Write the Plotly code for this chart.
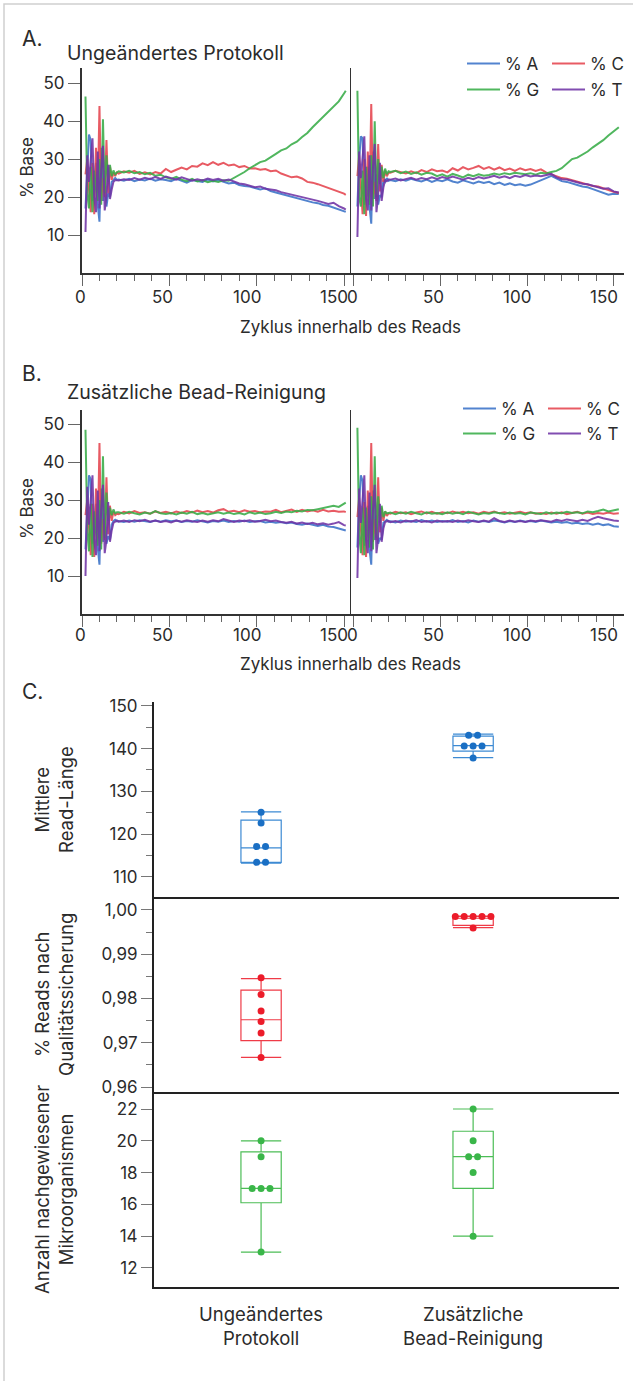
import plotly.graph_objects as go

W, H = 633, 1381
FONT = "Inter"
TXT = "#2b2b2b"

# ---------------- cycle grids ----------------
EARLY = list(range(2, 21))
MID = list(range(21, 151, 3))
X_LEFT = EARLY + MID + [151]
X_RIGHT = EARLY + MID + [153]
X_TICKS = [0, 50, 100, 150]

# ---------------- Panel A, left (Ungeändertes Protokoll, read 1) ----------------
AL_A = [17, 29, 36.5, 35, 19, 24, 29, 18, 13.5, 33, 19, 27, 17.5, 21, 20, 24, 24.5, 25, 24.5,
        24.6, 24.3, 24.8, 24.2, 24.6, 24.4, 24.9, 24.3, 24.7, 24.5, 24.2,
        24.8, 24.4, 23.8, 24.5, 24.2, 24.0, 24.6, 24.1, 24.5, 24.0, 23.6,
        23.8, 23.2, 22.9, 22.8, 22.4, 22.0, 22.3, 21.6, 21.2, 20.8, 20.5,
        20.2, 19.6, 19.4, 18.9, 18.6, 18.4, 17.9, 17.7, 17.2, 16.8, 16.3,
        16.1]
AL_C = [26, 30, 22, 16, 29, 15.5, 33, 21, 44, 19, 25, 20, 35, 21, 28, 24.5, 26.5, 25.5, 26.5,
        26.2, 26.8, 26.4, 26.9, 26.1, 26.5, 26.0, 26.6, 26.2, 27.4, 26.6,
        27.2, 27.8, 27.3, 28.2, 28.0, 28.9, 28.4, 29.2, 28.5, 29.0, 28.3,
        28.6, 27.9, 28.2, 27.5, 27.6, 27.2, 27.4, 26.8, 27.0, 26.2, 25.6,
        25.2, 25.4, 24.9, 24.0, 23.8, 23.4, 22.9, 22.6, 22.0, 21.6, 20.9,
        20.6]
AL_G = [46.5, 21, 17, 28, 16, 27, 22, 19, 30, 18, 40.5, 21, 31, 24, 28.5, 25.5, 27, 26, 26.5,
        26.8, 26.5, 26.9, 26.3, 26.6, 26.0, 26.4, 25.6, 25.9, 25.2, 24.8,
        25.3, 24.6, 24.2, 24.8, 24.1, 24.5, 23.9, 24.3, 24.0, 24.4, 24.3,
        25.0, 25.8, 26.6, 27.6, 28.4, 29.2, 29.6, 30.6, 31.4, 32.3, 32.8,
        33.9, 34.6, 35.8, 36.9, 38.4, 39.8, 41.0, 42.6, 43.8, 45.2, 47.3,
        48.0]
AL_T = [10.8, 31, 24, 30, 35.5, 20, 16, 32, 17, 27, 33.5, 16.5, 20, 28.5, 19.5, 22, 24, 24.5, 24.5,
        24.4, 24.7, 24.5, 25.0, 24.6, 25.1, 24.7, 25.3, 24.8, 25.4, 25.1,
        24.6, 25.2, 24.8, 24.3, 24.7, 24.4, 24.9, 24.5, 24.8, 24.3, 24.6,
        24.0, 23.6, 23.4, 22.9, 22.6, 22.8, 22.2, 22.0, 21.8, 21.3, 21.0,
        20.6, 20.3, 20.0, 19.6, 19.3, 19.0, 18.6, 18.2, 18.5, 17.6, 17.0,
        16.7]

# ---------------- Panel A, right (read 2) ----------------
AR_A = [17.5, 30, 36, 35.5, 18, 25, 28, 17.5, 13, 32, 19.5, 26, 18, 20.5, 20, 24.5, 24, 25, 24.3,
        24.5, 24.2, 24.7, 24.3, 24.8, 24.4, 24.1, 24.6, 24.0, 24.5, 24.2,
        24.7, 24.1, 23.8, 24.4, 24.0, 23.6, 24.1, 23.7, 24.0, 23.4, 23.8,
        23.2, 23.6, 23.1, 23.4, 23.0, 23.3, 23.8, 24.3, 25.0, 25.6, 24.9,
        24.2, 24.0, 23.5, 23.2, 22.8, 22.6, 22.1, 21.6, 21.2, 20.6, 20.9,
        20.8]
AR_C = [25.5, 31, 23, 15.5, 30, 15, 32, 20, 44.5, 19.5, 24, 19, 34, 21.5, 28.5, 24, 27, 25.5, 26.4,
        26.4, 26.9, 26.5, 26.2, 26.8, 26.3, 27.1, 26.6, 27.3, 26.8, 27.0,
        26.5, 27.6, 27.0, 27.9, 27.3, 27.7, 28.2, 27.4, 27.9, 27.2, 27.8,
        27.1, 27.5, 26.9, 27.6, 27.1, 27.4, 26.9, 27.3, 26.5, 26.0, 25.4,
        25.0, 24.8, 24.4, 24.1, 23.6, 23.4, 22.9, 22.8, 22.3, 21.8, 21.4,
        21.1]
AR_G = [48, 20, 17.5, 27, 15.5, 28, 21, 18, 31, 17.5, 40, 20, 30, 23.5, 28, 25, 27.5, 26, 26.8,
        26.6, 26.9, 26.3, 26.7, 26.1, 26.5, 25.9, 26.4, 26.2, 25.5, 26.0,
        25.4, 26.1, 25.7, 25.2, 25.9, 25.5, 26.0, 25.6, 25.8, 26.2, 25.9,
        26.3, 26.0, 26.4, 26.2, 26.0, 26.3, 25.9, 26.4, 26.2, 26.6, 26.9,
        27.6, 28.8, 30.0, 30.4, 31.2, 32.0, 33.1, 34.0, 35.0, 36.2, 37.4,
        38.4]
AR_T = [9.5, 32, 25, 31, 36, 19.5, 16.5, 31, 16.5, 28, 34, 16, 20.5, 29, 19, 22.5, 24.5, 24.2, 24.6,
        24.6, 24.9, 24.4, 24.8, 25.1, 24.6, 25.0, 24.7, 25.2, 24.8, 25.3,
        24.9, 25.4, 25.0, 24.6, 25.1, 24.7, 25.3, 24.9, 25.2, 25.6, 25.1,
        25.5, 25.0, 25.6, 25.3, 25.8, 25.4, 25.7, 25.5, 25.9, 26.1, 25.2,
        24.7, 24.6, 24.2, 23.9, 23.5, 23.4, 23.0, 22.6, 22.2, 22.3, 21.5,
        21.2]

# ---------------- Panel B, left (Zusätzliche Bead-Reinigung, read 1) ----------------
BL_A = [17, 29, 36.5, 35.5, 18.5, 24, 29, 17.5, 13, 33, 19, 26.5, 18.5, 20.5, 19.5, 23.5, 24.5, 24.8, 24.4,
        24.5, 24.2, 24.6, 24.3, 24.7, 24.4, 24.2, 24.6, 24.3, 24.7, 24.4,
        24.6, 24.2, 24.5, 24.3, 24.7, 24.4, 24.1, 24.5, 24.3, 24.6, 24.2,
        24.5, 24.3, 24.6, 24.2, 24.4, 24.5, 24.1, 24.3, 24.0, 24.2, 23.9,
        24.1, 23.7, 23.5, 23.8, 23.4, 23.2, 23.5, 23.0, 22.9, 22.5, 22.2,
        22.0]
BL_C = [26, 30, 23, 15.5, 29, 15, 33, 20, 45, 18.5, 25, 19.5, 36, 21, 28.5, 24.5, 27, 26, 26.4,
        26.3, 26.9, 26.5, 27.1, 26.6, 26.8, 26.4, 27.0, 26.6, 26.9, 26.5,
        27.0, 26.6, 27.1, 26.7, 27.2, 26.8, 27.1, 26.7, 27.3, 27.6, 26.9,
        27.2, 26.8, 27.3, 26.9, 27.1, 26.7, 27.0, 26.9, 27.4, 26.8, 27.2,
        27.5, 26.9, 27.4, 27.0, 27.3, 26.9, 27.4, 27.0, 27.2, 26.9, 27.0,
        26.8]
BL_G = [48.5, 22, 16.5, 29, 15, 27, 21.5, 18, 30, 17, 41.5, 20, 32, 24.5, 28, 26, 27.5, 26.5, 26.8,
        26.8, 26.4, 26.9, 26.5, 26.2, 26.7, 26.4, 27.1, 26.5, 26.3, 26.6,
        26.2, 26.7, 26.4, 26.9, 26.3, 26.6, 26.2, 26.5, 26.8, 26.4, 26.7,
        26.3, 26.6, 26.2, 26.8, 26.4, 26.7, 26.3, 26.5, 26.9, 26.6, 27.0,
        26.8, 27.2, 27.0, 27.4, 27.3, 27.6, 27.9, 28.0, 28.5, 28.2, 29.0,
        29.3]
BL_T = [10, 33.5, 23.5, 30.5, 36.5, 19.5, 15.5, 32.5, 16.5, 27.5, 34, 16, 19.5, 29.5, 19, 22, 24, 24.3, 24.6,
        24.3, 24.6, 24.2, 24.7, 24.4, 24.8, 24.3, 24.6, 24.2, 24.5, 24.1,
        24.6, 24.3, 24.7, 24.4, 24.2, 24.6, 24.3, 24.7, 24.4, 25.0, 24.5,
        24.2, 24.6, 24.4, 24.7, 24.3, 24.5, 24.8, 24.4, 24.6, 24.2, 24.0,
        24.3, 23.8, 24.1, 23.7, 24.0, 23.6, 23.9, 23.5, 23.8, 24.2, 23.4,
        23.3]

# ---------------- Panel B, right (read 2) ----------------
BR_A = [17.5, 30, 36.5, 35, 18, 24.5, 28.5, 17, 13, 32.5, 19.5, 26, 18.5, 20, 19.5, 24, 24.3, 24.8, 24.3,
        24.4, 24.1, 24.6, 24.3, 24.5, 24.2, 24.7, 24.3, 24.6, 24.2, 24.5,
        24.3, 24.7, 24.2, 24.5, 24.1, 24.6, 24.3, 24.5, 24.2, 24.6, 24.4,
        24.1, 24.5, 24.2, 24.6, 24.3, 24.5, 24.2, 24.6, 24.4, 24.1, 24.3,
        24.0, 24.2, 23.8, 24.0, 23.7, 23.9, 23.5, 23.8, 23.4, 23.6, 23.1,
        23.0]
BR_C = [25.5, 30.5, 22.5, 15.5, 29.5, 15, 32.5, 20, 45, 19, 25, 19.5, 36, 21.5, 28, 24.5, 27, 25.8, 26.5,
        26.4, 26.9, 26.5, 26.8, 26.3, 26.7, 27.0, 26.5, 26.9, 26.4, 26.8,
        26.5, 27.0, 26.6, 26.9, 26.5, 26.8, 26.4, 26.9, 26.6, 27.0, 26.5,
        26.8, 26.4, 26.7, 26.9, 26.5, 26.8, 26.4, 26.6, 26.3, 26.7, 26.4,
        26.8, 26.3, 26.6, 26.9, 26.4, 26.7, 26.3, 26.6, 26.4, 26.7, 26.4,
        26.5]
BR_G = [49, 21, 16, 28, 15.5, 28, 21, 17.5, 31, 17, 41.5, 20, 31, 24, 28.5, 25.5, 27, 26.5, 26.6,
        26.7, 26.3, 26.8, 26.4, 26.9, 26.5, 26.2, 26.8, 26.4, 26.6, 26.3,
        26.8, 26.4, 26.7, 26.3, 26.9, 26.5, 26.2, 26.6, 26.4, 26.8, 26.5,
        26.3, 26.7, 26.4, 26.6, 26.2, 26.7, 26.5, 26.3, 26.8, 26.4, 26.7,
        26.5, 26.9, 26.6, 26.8, 26.5, 27.0, 26.8, 27.1, 27.5, 27.0, 27.4,
        27.6]
BR_T = [9.5, 33, 24, 31, 36.5, 19.5, 16, 32, 16.5, 27.5, 34, 16, 20, 29, 19, 22.5, 24.2, 24.4, 24.5,
        24.2, 24.5, 24.1, 24.6, 24.3, 24.7, 24.2, 24.5, 24.1, 24.6, 24.3,
        24.5, 24.2, 24.6, 24.3, 24.7, 24.4, 24.2, 24.6, 24.3, 25.2, 24.5,
        24.2, 24.6, 24.3, 24.5, 24.2, 24.6, 24.4, 24.7, 24.5, 24.3, 24.8,
        24.5, 24.9, 24.6, 24.4, 24.8, 24.5, 25.1, 25.6, 25.2, 24.8, 24.6,
        24.5]

# ---------------- Panel C: box plot data ----------------
GROUPS = ["Ungeändertes<br>Protokoll", "Zusätzliche<br>Bead-Reinigung"]
GROUP_POS = [0, 1]

LEN_U = [125.1, 122.6, 117.1, 117.1, 113.4, 113.4]
LEN_B = [143.1, 143.1, 140.6, 140.6, 140.6, 137.8]
LEN_Q1 = [113.4, 139.4]
LEN_MED = [116.8, 140.7]
LEN_Q3 = [123.3, 142.9]
LEN_LO = [113.2, 137.9]
LEN_HI = [125.2, 143.4]

QC_U = [0.9847, 0.9809, 0.9772, 0.9748, 0.9722, 0.9667]
QC_B = [0.9985, 0.9985, 0.9985, 0.9985, 0.9985, 0.9959]
QC_Q1 = [0.9705, 0.9965]
QC_MED = [0.9752, 0.9981]
QC_Q3 = [0.9819, 0.9985]
QC_LO = [0.9667, 0.9960]
QC_HI = [0.9845, 0.9986]

MIC_U = [20, 19, 17, 17, 17, 13]
MIC_B = [22, 20, 19, 19, 18, 14]
MIC_Q1 = [16.1, 17.0]
MIC_MED = [17.0, 19.0]
MIC_Q3 = [19.3, 20.6]
MIC_LO = [13, 14]
MIC_HI = [20, 22]

# ---------------- styling helpers ----------------
LINE_COL = {"A": "#3a72c8", "C": "#e5444e", "G": "#38ad48", "T": "#7034a6"}
LABEL = {"A": "% A", "C": "% C", "G": "% G", "T": "% T"}


def px_x(p):
    return p / W


def px_y(p):
    return 1 - p / H


def dom_x(a, b):
    return [a / W, b / W]


def dom_y(top, bottom):
    return [1 - bottom / H, 1 - top / H]


fig = go.Figure()

panels = [
    ({"A": AL_A, "C": AL_C, "G": AL_G, "T": AL_T}, X_LEFT, "x", "y", ("legend", "legend2"), True),
    ({"A": AR_A, "C": AR_C, "G": AR_G, "T": AR_T}, X_RIGHT, "x2", "y2", None, False),
    ({"A": BL_A, "C": BL_C, "G": BL_G, "T": BL_T}, X_LEFT, "x3", "y3", ("legend3", "legend4"), True),
    ({"A": BR_A, "C": BR_C, "G": BR_G, "T": BR_T}, X_RIGHT, "x4", "y4", None, False),
]
for series, xs, xa, ya, legs, show in panels:
    for base in ["A", "C", "G", "T"]:
        ys = series[base]
        assert len(ys) == len(xs), (xa, base, len(ys), len(xs))
        kw = {}
        if show:
            kw["legend"] = legs[0] if base in ("A", "C") else legs[1]
        fig.add_trace(go.Scatter(
            x=xs, y=ys, mode="lines", name=LABEL[base],
            line=dict(color=LINE_COL[base], width=2),
            opacity=0.88, xaxis=xa, yaxis=ya, showlegend=show, **kw))


def swarm(vals, center, step=0.042):
    out = []
    for i, v in enumerate(vals):
        same = [j for j, w in enumerate(vals) if w == v]
        k = same.index(i)
        n = len(same)
        out.append(center + (k - (n - 1) / 2) * step)
    return out


box_sets = [
    ("x5", "y5", (LEN_U, LEN_B), LEN_Q1, LEN_MED, LEN_Q3, LEN_LO, LEN_HI, "#3d8ad3", "#1a6fc4"),
    ("x6", "y6", (QC_U, QC_B), QC_Q1, QC_MED, QC_Q3, QC_LO, QC_HI, "#ef3b47", "#ec1c2a"),
    ("x7", "y7", (MIC_U, MIC_B), MIC_Q1, MIC_MED, MIC_Q3, MIC_LO, MIC_HI, "#4cbd56", "#3ab649"),
]
for xa, ya, pts, q1, med, q3, lo, hi, bcol, pcol in box_sets:
    for g in range(2):
        fig.add_trace(go.Box(
            x=[GROUP_POS[g]], q1=[q1[g]], median=[med[g]], q3=[q3[g]],
            lowerfence=[lo[g]], upperfence=[hi[g]],
            width=0.19, whiskerwidth=1, boxpoints=False,
            line=dict(color=bcol, width=1.2), fillcolor="rgba(255,255,255,0)",
            xaxis=xa, yaxis=ya, showlegend=False, hoverinfo="skip"))
        fig.add_trace(go.Scatter(
            x=swarm(pts[g], GROUP_POS[g]), y=pts[g], mode="markers",
            marker=dict(size=7, color=pcol), xaxis=xa, yaxis=ya, showlegend=False))

# ---------------- axes ----------------
tickfont = dict(family=FONT, size=17, color=TXT)
common = dict(showgrid=False, zeroline=False, automargin=False)

for name, dom, rng in [("xaxis", dom_x(82, 351), [0, 154]), ("xaxis2", dom_x(351, 624), [-1.7, 156]),
                       ("xaxis3", dom_x(82, 351), [0, 154]), ("xaxis4", dom_x(351, 624), [-1.7, 156])]:
    fig.layout[name] = dict(
        domain=dom, range=rng, showline=True, linecolor="#333", linewidth=2,
        ticks="outside", ticklen=11, tickcolor="#666", tickwidth=1,
        tickvals=X_TICKS, showticklabels=False,
        minor=dict(dtick=10, tick0=0, ticks="outside", ticklen=6, tickcolor="#666"),
        anchor={"xaxis": "y", "xaxis2": "y2", "xaxis3": "y3", "xaxis4": "y4"}[name], **common)

for name, dom, rng, anch in [("yaxis", dom_y(68, 273), [0, 54], "x"),
                             ("yaxis3", dom_y(410, 614), [0, 53.7], "x3")]:
    fig.layout[name] = dict(
        domain=dom, range=rng, showline=True, linecolor="#333", linewidth=2,
        ticks="outside", ticklen=12, tickcolor="#666", tickvals=[10, 20, 30, 40, 50],
        tickfont=tickfont, anchor=anch, **common)
for name, dom, rng, anch in [("yaxis2", dom_y(68, 273), [0, 54], "x2"),
                             ("yaxis4", dom_y(410, 614), [0, 53.7], "x4")]:
    fig.layout[name] = dict(
        domain=dom, range=rng, showline=True, linecolor="#333", linewidth=1,
        ticks="", showticklabels=False, anchor=anch, **common)

CX = dom_x(154, 619)
CXR = [-0.505, 1.688]
for name, anch, last in [("xaxis5", "y5", False), ("xaxis6", "y6", False), ("xaxis7", "y7", True)]:
    d = dict(domain=CX, range=CXR, showline=True, linecolor="#222", linewidth=2,
             anchor=anch, **common)
    if last:
        d.update(tickvals=GROUP_POS, ticktext=GROUPS, ticks="outside", ticklen=10,
                 tickcolor="rgba(0,0,0,0)", tickfont=dict(family=FONT, size=18.5, color=TXT))
    else:
        d.update(showticklabels=False, ticks="")
    fig.layout[name] = d

fig.layout["yaxis5"] = dict(
    domain=dom_y(702, 897), range=[105.3, 150.9], anchor="x5", showline=True,
    linecolor="#222", linewidth=2, ticks="outside", ticklen=11, tickcolor="#777",
    tickvals=[110, 120, 130, 140, 150], tickfont=tickfont,
    minor=dict(tickvals=[115, 125, 135, 145], ticks="outside", ticklen=6, tickcolor="#777"), **common)
fig.layout["yaxis6"] = dict(
    domain=dom_y(897, 1092), range=[0.9589, 1.0029], anchor="x6", showline=True,
    linecolor="#222", linewidth=2, ticks="outside", ticklen=11, tickcolor="#777",
    tickvals=[0.96, 0.97, 0.98, 0.99, 1.00], ticktext=["0,96", "0,97", "0,98", "0,99", "1,00"],
    tickfont=tickfont,
    minor=dict(tickvals=[0.965, 0.975, 0.985, 0.995], ticks="outside", ticklen=6, tickcolor="#777"),
    **common)
fig.layout["yaxis7"] = dict(
    domain=dom_y(1092, 1287), range=[10.8, 23.07], anchor="x7", showline=True,
    linecolor="#222", linewidth=2, ticks="outside", ticklen=11, tickcolor="#777",
    tickvals=[12, 14, 16, 18, 20, 22], tickfont=tickfont, **common)


# ---------------- legends ----------------
def leg(xpx, ypx):
    return dict(orientation="h", x=px_x(xpx), xanchor="left", y=px_y(ypx), yanchor="top",
                entrywidth=37, entrywidthmode="pixels", itemwidth=33, bgcolor="rgba(0,0,0,0)",
                font=dict(family=FONT, size=17, color=TXT), itemclick=False,
                itemdoubleclick=False, tracegroupgap=0)


fig.update_layout(
    legend=leg(462, 46), legend2=leg(462, 72),
    legend3=leg(458, 391), legend4=leg(458, 416),
)

# ---------------- annotations ----------------
ann = []


def text(t, xpx, ypx, size, xanchor="left", angle=0):
    ann.append(dict(text=t, x=px_x(xpx), y=px_y(ypx), xref="paper", yref="paper",
                    xanchor=xanchor, yanchor="middle", showarrow=False, textangle=angle,
                    font=dict(family=FONT, size=size, color=TXT)))


# x tick labels (right-aligned just past each tick, as in the reference)
for xa, ypx in [("x", 297), ("x2", 297), ("x3", 635), ("x4", 635)]:
    for v in X_TICKS:
        ann.append(dict(text=str(v), x=v, y=px_y(ypx), xref=xa, yref="paper",
                        xanchor="right", yanchor="middle", xshift=6, showarrow=False,
                        font=dict(family=FONT, size=17, color=TXT)))

text("A.", 20, 39, 21)
text("Ungeändertes Protokoll", 65, 53, 19.5)
text("% Base", 27, 168, 17, "center", -90)
text("Zyklus innerhalb des Reads", 351, 327, 17, "center")
text("B.", 20, 373, 21)
text("Zusätzliche Bead-Reinigung", 65, 392, 19.5)
text("% Base", 27, 509, 17, "center", -90)
text("Zyklus innerhalb des Reads", 351, 664, 17, "center")
text("C.", 20, 691, 21)
text("Mittlere<br>Read-Länge", 54, 800, 18.5, "center", -90)
text("% Reads nach<br>Qualitätssicherung", 54, 995, 18.5, "center", -90)
text("Anzahl nachgewiesener<br>Mikroorganismen", 54, 1190, 18.5, "center", -90)

fig.update_layout(
    width=W, height=H, margin=dict(l=0, r=0, t=0, b=0, autoexpand=False),
    paper_bgcolor="white", plot_bgcolor="white",
    font=dict(family=FONT, color=TXT),
    annotations=ann,
    shapes=[dict(type="rect", xref="paper", yref="paper", x0=px_x(4), x1=1.05,
                 y0=-0.05, y1=px_y(4), line=dict(color="#cfcfcf", width=1.5))],
)

fig.write_html(
    "out.html",
    config={"displayModeBar": False},
    post_script="document.body.style.margin='0';document.body.style.padding='0';"
                "document.body.style.overflow='hidden';",
)
